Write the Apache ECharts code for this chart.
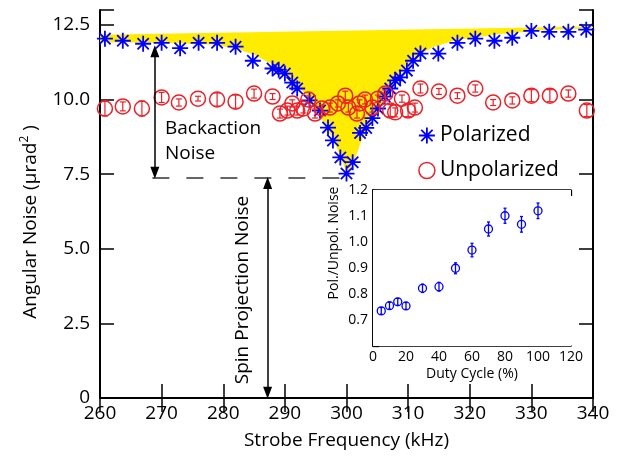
<!DOCTYPE html>
<html><head><meta charset="utf-8">
<script src="https://cdn.jsdelivr.net/npm/echarts@6/dist/echarts.min.js"></script>
<style>html,body{margin:0;padding:0;background:#fff}#c{width:623px;height:458px}</style>
</head><body><div id="c"></div>
<script>
// ---- Main panel: polarized (stars) ----
const polFreq = [260.8, 263.7, 267, 270, 273, 276, 279, 282, 284.8, 288, 289, 290, 291.2, 292, 294, 295.7, 297, 297.8, 299, 300, 301, 302.2, 303.2, 304.2, 305.1, 306.2, 307.1, 307.9, 308.7, 309.8, 310.8, 312, 314.9, 318, 320.9, 324, 326.9, 330, 332.9, 336, 338.9];
const polNoise = [12.04, 11.97, 11.87, 11.9, 11.72, 11.9, 11.9, 11.77, 11.3, 11.04, 11.0, 10.87, 10.57, 10.37, 9.97, 9.63, 9.06, 8.63, 8.06, 7.52, 7.9, 8.88, 9.05, 9.38, 9.7, 10.1, 10.37, 10.64, 10.74, 10.97, 11.3, 11.54, 11.54, 11.9, 12.04, 11.97, 12.07, 12.3, 12.27, 12.27, 12.34];
// ---- Main panel: unpolarized (circles with error bars) ----
const unpolFreq = [260.8, 263.7, 266.8, 270, 272.8, 275.9, 279, 282, 285, 288, 289.2, 290.4, 291.2, 292, 293, 293.8, 294.9, 296, 297.3, 298.6, 299.8, 300.3, 301.7, 302.1, 303, 304.2, 305.1, 306.3, 307.1, 307.9, 309, 310, 311.1, 312, 315, 318, 320.9, 323.8, 326.9, 330, 333, 336, 339];
const unpolNoise = [9.7, 9.77, 9.7, 10.07, 9.9, 10.03, 10.0, 9.93, 10.2, 10.1, 9.53, 9.63, 9.87, 9.63, 9.7, 10.0, 9.53, 9.7, 9.73, 9.87, 10.13, 9.73, 9.53, 9.87, 10.0, 9.73, 10.03, 10.2, 9.63, 9.57, 10.03, 9.63, 9.73, 10.37, 10.27, 10.13, 10.37, 9.9, 9.97, 10.13, 10.13, 10.2, 9.63];
const unpolErr = [0.25, 0.15, 0.25, 0.17, 0.12, 0.08, 0.22, 0.22, 0.15, 0.1, 0.15, 0.15, 0.12, 0.15, 0.15, 0.12, 0.15, 0.12, 0.15, 0.12, 0.15, 0.15, 0.15, 0.12, 0.15, 0.15, 0.12, 0.12, 0.2, 0.15, 0.12, 0.2, 0.15, 0.15, 0.1, 0.1, 0.12, 0.1, 0.12, 0.2, 0.2, 0.12, 0.2];
// ---- Shaded backaction region (fit curve below, straight level above) ----
const fitFreq = [260, 270, 278, 282, 285, 288, 291, 293, 294.2, 296, 298.2, 299.3, 300.1, 301.2, 302.2, 303.5, 305, 306.8, 308, 309.2, 311, 314, 318, 325, 332, 340];
const fitLow = [11.92, 11.9, 11.84, 11.72, 11.5, 11.17, 10.65, 10.25, 9.95, 9.35, 8.5, 7.95, 7.5, 7.9, 8.5, 9.1, 9.6, 10.1, 10.6, 11.0, 11.4, 11.75, 12.0, 12.2, 12.32, 12.4];
const topFreq = [260, 340];
const topLevel = [12.17, 12.45];
// ---- Inset ----
const dutyCycle = [5, 10, 15, 20, 30, 40, 50, 60, 70, 80, 90, 100];
const ratio = [0.735, 0.755, 0.77, 0.754, 0.822, 0.828, 0.899, 0.969, 1.05, 1.101, 1.068, 1.12];
const ratioErr = [0.013, 0.013, 0.013, 0.013, 0.016, 0.017, 0.021, 0.026, 0.027, 0.029, 0.03, 0.03];
// ---- Tick labels ----
const xTickLabels = ['260', '270', '280', '290', '300', '310', '320', '330', '340'];
const yTickLabels = ['0', '2.5', '5.0', '7.5', '10.0', '12.5'];
const insetXLabels = ['0', '20', '40', '60', '80', '100', '120'];
const insetYLabels = ['', '0.7', '0.8', '0.9', '1.0', '1.1', '1.2'];

const BLUE = '#0000ff', RED = '#ec2027', YELLOW = '#ffec00';
const FONT = 'Open Sans';
const STAR = 'path://M0 10L20 10M10 0L10 20M2.93 2.93L17.07 17.07M17.07 2.93L2.93 17.07';

function lookup(labels, start, step) {
  return function (v) {
    const i = Math.round((v - start) / step);
    if (Math.abs(v - (start + i * step)) > 1e-6 || i < 0 || i >= labels.length) return '';
    return labels[i];
  };
}
function errBars(color, cap, lw) {
  return function (params, api) {
    const x = api.value(0), y = api.value(1), e = api.value(2);
    const hi = api.coord([x, y + e]), lo = api.coord([x, y - e]);
    const st = { stroke: color, lineWidth: lw };
    return { type: 'group', children: [
      { type: 'line', shape: { x1: hi[0], y1: hi[1], x2: lo[0], y2: lo[1] }, style: st },
      { type: 'line', shape: { x1: hi[0] - cap, y1: hi[1], x2: hi[0] + cap, y2: hi[1] }, style: st },
      { type: 'line', shape: { x1: lo[0] - cap, y1: lo[1], x2: lo[0] + cap, y2: lo[1] }, style: st }
    ]};
  };
}

const chart = echarts.init(document.getElementById('c'), null, { renderer: 'canvas' });
const axisLineMain = { show: true, lineStyle: { color: '#000', width: 2 } };
const tickMain = { show: true, inside: true, length: 14, lineStyle: { color: '#000', width: 1.5 } };
const tickInset = { show: true, inside: true, length: 6, lineStyle: { color: '#000', width: 1.3 } };
const axisLineInset = { show: true, lineStyle: { color: '#000', width: 1.6 } };

const option = {
  animation: false,
  backgroundColor: '#fff',
  textStyle: { fontFamily: FONT },
  grid: [
    { left: 100, top: 10, width: 493, height: 388, show: false },
    { left: 373, top: 190, width: 198, height: 156, show: true, backgroundColor: '#fff', borderWidth: 0, z: 5 }
  ],
  legend: {
    orient: 'vertical', left: 413, top: 120, itemWidth: 16, itemHeight: 16, itemGap: 14,
    textStyle: { fontFamily: FONT, fontSize: 21, color: '#000', padding: [0, 0, 0, 0] },
    data: [
      { name: 'Polarized', icon: STAR, itemStyle: { color: 'rgba(0,0,0,0)', borderColor: BLUE, borderWidth: 1.8 } },
      { name: 'Unpolarized', icon: 'circle', itemStyle: { color: 'rgba(0,0,0,0)', borderColor: RED, borderWidth: 1.5 } }
    ]
  },
  xAxis: [
    { gridIndex: 0, type: 'value', min: 260, max: 340, interval: 10,
      axisLine: axisLineMain, axisTick: tickMain, splitLine: { show: false },
      axisLabel: { color: '#000', fontSize: 19, fontFamily: FONT, margin: 6, formatter: lookup(xTickLabels, 260, 10) },
      name: 'Strobe Frequency (kHz)', nameLocation: 'middle', nameGap: 33,
      nameTextStyle: { color: '#000', fontSize: 19, fontFamily: FONT } },
    { gridIndex: 0, type: 'value', position: 'top', min: 260, max: 340, interval: 10,
      axisLine: axisLineMain, axisTick: tickMain, axisLabel: { show: false }, splitLine: { show: false } },
    { gridIndex: 1, type: 'value', min: 0, max: 120, interval: 20,
      axisLine: axisLineInset, axisTick: { show: false }, splitLine: { show: false },
      axisLabel: { color: '#000', fontSize: 14, fontFamily: FONT, margin: 4, formatter: lookup(insetXLabels, 0, 20) },
      name: 'Duty Cycle (%)', nameLocation: 'middle', nameGap: 21,
      nameTextStyle: { color: '#000', fontSize: 14, fontFamily: FONT } },
    { gridIndex: 1, type: 'value', position: 'top', min: 0, max: 120, interval: 20,
      axisLine: axisLineInset, axisTick: tickInset, axisLabel: { show: false }, splitLine: { show: false } }
  ],
  yAxis: [
    { gridIndex: 0, type: 'value', min: 0, max: 13, interval: 2.5,
      axisLine: axisLineMain, axisTick: tickMain, splitLine: { show: false },
      axisLabel: { color: '#000', fontSize: 19, fontFamily: FONT, margin: 10, formatter: lookup(yTickLabels, 0, 2.5) } },
    { gridIndex: 0, type: 'value', position: 'right', min: 0, max: 13, interval: 2.5,
      axisLine: axisLineMain, axisTick: tickMain, axisLabel: { show: false }, splitLine: { show: false } },
    { gridIndex: 1, type: 'value', min: 0.6, max: 1.2, interval: 0.1,
      axisLine: axisLineInset, axisTick: tickInset, splitLine: { show: false },
      axisLabel: { color: '#000', fontSize: 14, fontFamily: FONT, margin: 5, formatter: lookup(insetYLabels, 0.6, 0.1) } },
    { gridIndex: 1, type: 'value', position: 'right', min: 0.6, max: 1.2, interval: 0.1,
      axisLine: axisLineInset, axisTick: { show: false }, axisLabel: { show: false }, splitLine: { show: false } }
  ],
  series: [
    { name: 'shade', type: 'custom', xAxisIndex: 0, yAxisIndex: 0, z: 1, silent: true,
      data: [[0]],
      renderItem: function (params, api) {
        const pts = [];
        for (let i = 0; i < topFreq.length; i++) pts.push(api.coord([topFreq[i], topLevel[i]]));
        for (let i = fitFreq.length - 1; i >= 0; i--) pts.push(api.coord([fitFreq[i], fitLow[i]]));
        return { type: 'polygon', shape: { points: pts }, style: { fill: YELLOW, stroke: 'none' } };
      },
      markLine: {
        silent: true, animation: false,
        label: { show: false },
        data: [
          [{ coord: [268.5, 7.37], symbol: 'none', lineStyle: { type: [17, 17], color: '#333', width: 1.5 } },
           { coord: [300, 7.37], symbol: 'none' }],
          [{ coord: [268.9, 11.62], symbol: 'triangle', symbolSize: [9, 12], lineStyle: { color: '#000', width: 1.5, type: 'solid' } },
           { coord: [268.9, 7.55], symbol: 'triangle', symbolSize: [9, 12] }],
          [{ coord: [287.2, 7.2], symbol: 'triangle', symbolSize: [9, 12], lineStyle: { color: '#000', width: 1.5, type: 'solid' } },
           { coord: [287.2, 0.18], symbol: 'triangle', symbolSize: [9, 12] }]
        ],
        itemStyle: { color: '#000' }
      }
    },
    { name: 'Polarized', type: 'scatter', xAxisIndex: 0, yAxisIndex: 0, z: 3,
      symbol: STAR, symbolSize: 16,
      itemStyle: { color: 'rgba(0,0,0,0)', borderColor: BLUE, borderWidth: 1.8, opacity: 1 },
      data: polFreq.map((f, i) => [f, polNoise[i]]) },
    { name: 'Unpolarized', type: 'scatter', xAxisIndex: 0, yAxisIndex: 0, z: 4,
      symbol: 'circle', symbolSize: 15,
      itemStyle: { color: 'rgba(0,0,0,0)', borderColor: RED, borderWidth: 1.5, opacity: 1 },
      data: unpolFreq.map((f, i) => [f, unpolNoise[i]]) },
    { name: 'unpolErr', type: 'custom', xAxisIndex: 0, yAxisIndex: 0, z: 4, silent: true,
      renderItem: errBars(RED, 3, 1.2),
      data: unpolFreq.map((f, i) => [f, unpolNoise[i], unpolErr[i]]) },
    { name: 'ratio', type: 'scatter', xAxisIndex: 2, yAxisIndex: 2, z: 6,
      symbol: 'circle', symbolSize: 8,
      itemStyle: { color: 'rgba(0,0,0,0)', borderColor: BLUE, borderWidth: 1.3, opacity: 1 },
      data: dutyCycle.map((d, i) => [d, ratio[i]]) },
    { name: 'ratioErr', type: 'custom', xAxisIndex: 2, yAxisIndex: 2, z: 6, silent: true,
      renderItem: errBars(BLUE, 1.5, 1.3),
      data: dutyCycle.map((d, i) => [d, ratio[i], ratioErr[i]]) }
  ],
  graphic: [
    { type: 'text', left: 165, top: 119, z: 10, style: { text: 'Backaction', font: '19px "Open Sans"', fill: '#000' } },
    { type: 'text', left: 165, top: 144, z: 10, style: { text: 'Noise', font: '19px "Open Sans"', fill: '#000' } },
    { type: 'text', x: 243, y: 290, rotation: Math.PI / 2, z: 10,
      style: { text: 'Spin Projection Noise', font: '19px "Open Sans"', fill: '#000', align: 'center', verticalAlign: 'middle' } },
    { type: 'text', x: 31, y: 222, rotation: Math.PI / 2, z: 10,
      style: { text: '{a|Angular Noise (µrad}{s|2}{a| )}', align: 'center', verticalAlign: 'middle',
        rich: { a: { font: '19px "Open Sans"', fill: '#000', lineHeight: 24 },
                s: { font: '12px "Open Sans"', fill: '#000', lineHeight: 24, verticalAlign: 'top' } } } },
    { type: 'text', x: 334, y: 243, rotation: Math.PI / 2, z: 10,
      style: { text: 'Pol./Unpol. Noise', font: '14px "Open Sans"', fill: '#000', align: 'center', verticalAlign: 'middle' } }
  ]
};
chart.setOption(option);
</script>
</body></html>
